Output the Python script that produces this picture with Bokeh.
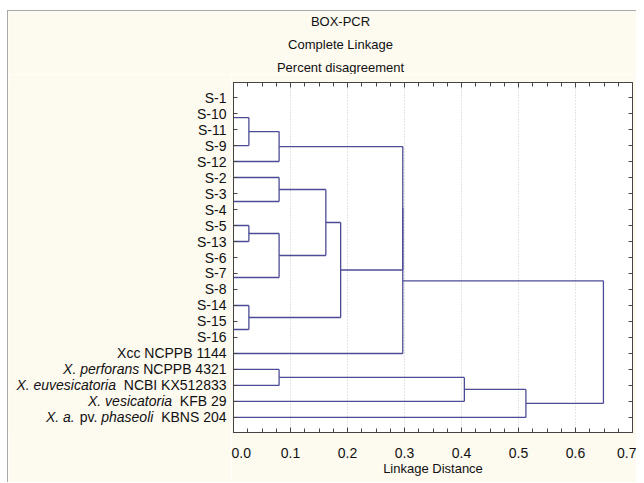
from bokeh.plotting import figure
from bokeh.layouts import column, row
from bokeh.models import (Range1d, FixedTicker, LinearAxis, ColumnDataSource,
                          PrintfTickFormatter, CustomJSTickFormatter)
from bokeh.core.properties import value
from bokeh.embed import file_html
from bokeh.resources import INLINE

# ---------------- data ----------------
title_lines = ["BOX-PCR", "Complete Linkage", "Percent disagreement"]
x_label = "Linkage Distance"
x_ticks = [0.0, 0.1, 0.2, 0.3, 0.4, 0.5, 0.6, 0.7]
x_minor = [i * 0.025 for i in range(29)]

leaf_ids = ["S-1", "S-10", "S-11", "S-9", "S-12", "S-2", "S-3", "S-4", "S-5", "S-13",
            "S-6", "S-7", "S-8", "S-14", "S-15", "S-16", "Xcc", "Xp", "Xe", "Xv", "Xap"]
# label parts: (text, italic)
leaf_label_parts = [
    [("S-1", False)], [("S-10", False)], [("S-11", False)], [("S-9", False)],
    [("S-12", False)], [("S-2", False)], [("S-3", False)], [("S-4", False)],
    [("S-5", False)], [("S-13", False)], [("S-6", False)], [("S-7", False)],
    [("S-8", False)], [("S-14", False)], [("S-15", False)], [("S-16", False)],
    [("Xcc NCPPB 1144", False)],
    [("X. perforans", True), (" NCPPB 4321", False)],
    [("X. euvesicatoria", True), ("  NCBI KX512833", False)],
    [("X. vesicatoria", True), ("  KFB 29", False)],
    [("X. a.", True), (" pv. ", False), ("phaseoli", True), ("  KBNS 204", False)],
]

# merges: cluster Ck = merge_a[k] + merge_b[k] at merge_h[k]
merge_a = ["S-1", "C0", "C1", "C2", "S-3", "S-2", "S-5", "S-6", "C7", "C6", "C5",
           "S-15", "S-14", "C10", "C3", "C14", "Xp", "C16", "C17", "C15"]
merge_b = ["S-10", "S-11", "S-9", "S-12", "S-4", "C4", "S-13", "S-7", "S-8", "C8", "C9",
           "S-16", "C11", "C12", "C13", "Xcc", "Xe", "Xv", "Xap", "C18"]
merge_h = [0.0, 0.0, 0.027, 0.080, 0.0, 0.080, 0.027, 0.0, 0.0, 0.080, 0.162,
           0.0, 0.027, 0.188, 0.297, 0.297, 0.080, 0.405, 0.513, 0.649]

# ---------------- tree geometry ----------------
pos = {lid: (0.0, i + 1.0) for i, lid in enumerate(leaf_ids)}
x0, y0, x1, y1 = [], [], [], []
for k, (a, b, h) in enumerate(zip(merge_a, merge_b, merge_h)):
    xa_, ya_ = pos[a]
    xb_, yb_ = pos[b]
    if h > 0:
        x0.append(h); y0.append(ya_); x1.append(h); y1.append(yb_)
    if h > xa_:
        x0.append(xa_); y0.append(ya_); x1.append(h); y1.append(ya_)
    if h > xb_:
        x0.append(xb_); y0.append(yb_); x1.append(h); y1.append(yb_)
    pos["C%d" % k] = (h, (ya_ + yb_) / 2.0)
leaf_y = [i + 1.0 for i in range(len(leaf_ids))]

# Arial / Liberation Sans advance widths (per 1000 em)
W = {' ': 278, '.': 278, '-': 333, 'A': 667, 'B': 667, 'C': 722, 'D': 722, 'E': 667,
     'F': 611, 'I': 278, 'K': 667, 'N': 722, 'O': 778, 'P': 667, 'R': 722, 'S': 667,
     'X': 667, 'a': 556, 'c': 500, 'e': 556, 'f': 278, 'h': 556, 'i': 222, 'l': 222,
     'n': 556, 'o': 556, 'p': 556, 'r': 333, 's': 500, 't': 278, 'u': 556, 'v': 500,
     'g': 556, 'k': 500, 'm': 833, 'd': 556}
def tw(s, size):
    return sum(W.get(c, 556) for c in s) * size / 1000.0

LAB = 14
FONT = "Liberation Sans"
INK = "#111111"
AX = "#444444"
BG = "#FDFAF0"
LINE = "#4C4C96"

TOTAL_W = 628
TOP_H = 63
FRAME_W, FRAME_H = 399, 350
MB_TOP, MB_BOT, MB_L, MB_R = 8, 50, 2, 4
MAIN_W = MB_L + FRAME_W + MB_R
LAB_W = TOTAL_W - MAIN_W
ROW_H = MB_TOP + FRAME_H + MB_BOT

y_range = Range1d(21.94, 0.06)

# ---------------- title strip ----------------
pt = figure(width=TOTAL_W, height=TOP_H, x_range=Range1d(0, TOTAL_W), y_range=Range1d(0, TOP_H),
            min_border=0, x_axis_location=None, y_axis_location=None,
            output_backend="svg", toolbar_location=None)
pt.background_fill_color = BG
pt.border_fill_color = BG
pt.outline_line_color = None
pt.grid.visible = False
pt.text(x=[332] * 3, y=[TOP_H - 10, TOP_H - 33, TOP_H - 56], text=title_lines,
        text_align="center", text_baseline="middle", text_font=value(FONT),
        text_font_size="13px", text_color=INK)

# ---------------- leaf labels ----------------
norm = dict(x=[], y=[], text=[], xo=[])
ital = dict(x=[], y=[], text=[], xo=[])
for i, parts in enumerate(leaf_label_parts):
    off = -5.0
    for text, it in reversed(parts):
        trail = len(text) - len(text.rstrip())
        d = ital if it else norm
        d["x"].append(1.0); d["y"].append(leaf_y[i])
        d["text"].append(text.strip())
        d["xo"].append(off - tw(" " * trail, LAB))
        off -= tw(text, LAB)

pl = figure(width=LAB_W, height=ROW_H, x_range=Range1d(0, 1), y_range=y_range,
            min_border_left=0, min_border_right=0, min_border_top=MB_TOP,
            min_border_bottom=MB_BOT, x_axis_location=None, y_axis_location=None,
            output_backend="svg", toolbar_location=None)
pl.background_fill_color = BG
pl.border_fill_color = BG
pl.outline_line_color = None
pl.grid.visible = False
pl.text(x="x", y="y", text="text", x_offset="xo", source=ColumnDataSource(norm),
        text_align="right", text_baseline="middle", text_font=value(FONT),
        text_font_size="%dpx" % LAB, text_color=INK)
pl.text(x="x", y="y", text="text", x_offset="xo", source=ColumnDataSource(ital),
        text_align="right", text_baseline="middle", text_font=value(FONT),
        text_font_size="%dpx" % LAB, text_font_style="italic", text_color=INK)

# ---------------- dendrogram ----------------
p = figure(width=MAIN_W, height=ROW_H, min_border_left=MB_L, min_border_right=MB_R,
           min_border_top=MB_TOP, min_border_bottom=MB_BOT,
           x_range=Range1d(0, 0.7), y_range=y_range,
           output_backend="svg", toolbar_location=None)
p.background_fill_color = "white"
p.border_fill_color = BG
p.outline_line_color = AX
p.segment(x0=x0, y0=y0, x1=x1, y1=y1, line_color=LINE, line_width=1.3)

p.xgrid.ticker = FixedTicker(ticks=x_ticks)
p.xgrid.grid_line_color = "#C8C8C8"
p.xgrid.grid_line_dash = "1 2"
p.ygrid.visible = False

xa = p.xaxis[0]
xa.ticker = FixedTicker(ticks=x_ticks, minor_ticks=x_minor)
xa.formatter = PrintfTickFormatter(format="%.1f")
xa.major_tick_in = 5; xa.major_tick_out = 0
xa.minor_tick_in = 4; xa.minor_tick_out = 0
xa.major_label_standoff = 15
xa.major_label_text_font = FONT
xa.major_label_text_font_size = "14px"
xa.major_label_text_color = INK
xa.axis_label = x_label
xa.axis_label_text_font = FONT
xa.axis_label_text_font_size = "13px"
xa.axis_label_text_font_style = "normal"
xa.axis_label_text_color = INK
xa.axis_label_standoff = 0
xa.axis_line_color = AX; xa.major_tick_line_color = AX; xa.minor_tick_line_color = AX

blank = CustomJSTickFormatter(code="return ''")

ya = p.yaxis[0]
ya.ticker = FixedTicker(ticks=leaf_y)
ya.formatter = blank
ya.major_label_standoff = 0
ya.major_label_text_font_size = "1px"
ya.major_tick_in = 4; ya.major_tick_out = 0
ya.minor_tick_line_color = None
ya.axis_line_color = AX; ya.major_tick_line_color = AX

ra = LinearAxis(ticker=FixedTicker(ticks=leaf_y), formatter=blank,
                major_tick_in=4, major_tick_out=0, minor_tick_line_color=None,
                axis_line_color=AX, major_tick_line_color=AX,
                major_label_standoff=0, major_label_text_font_size="1px")
p.add_layout(ra, "right")

ta = LinearAxis(ticker=FixedTicker(ticks=x_ticks, minor_ticks=x_minor), formatter=blank,
                major_tick_in=5, major_tick_out=0, minor_tick_in=4, minor_tick_out=0,
                axis_line_color=AX, major_tick_line_color=AX,
                minor_tick_line_color=AX, major_label_standoff=0,
                major_label_text_font_size="1px")
p.add_layout(ta, "above")

layout = column(pt, row(pl, p, spacing=0), spacing=0)
layout.styles = {"margin-left": "7px", "margin-top": "10px",
                 "border-top": "1px solid #A8A8A8", "border-left": "1px solid #A8A8A8"}
open("out.html", "w").write(file_html(layout, INLINE))
